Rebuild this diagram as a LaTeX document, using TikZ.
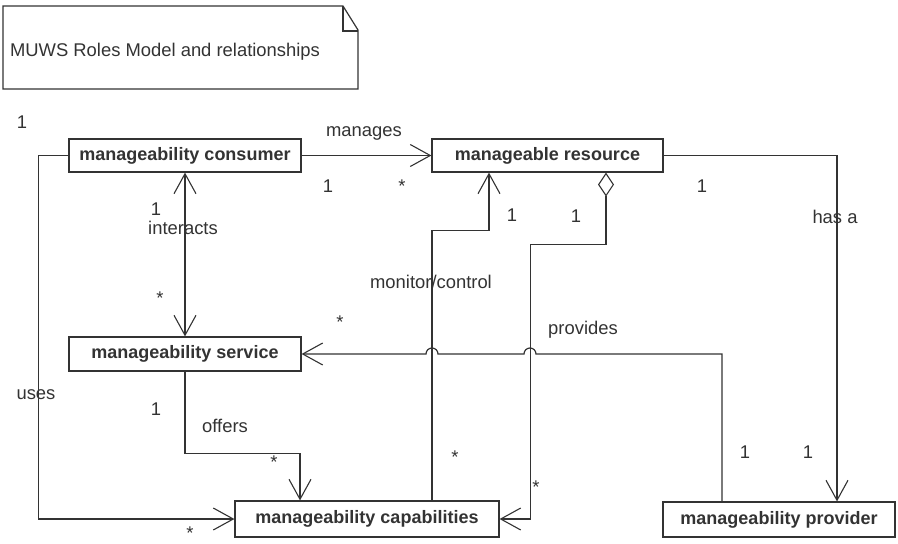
\documentclass[tikz,border=0pt]{standalone}
\usepackage{fontspec}
\setmainfont{Liberation Sans}
\usetikzlibrary{arrows.meta,calc}
\definecolor{ink}{HTML}{333333}
\tikzset{
  cls/.style={draw=ink, line width=1.2pt, inner sep=0pt, text=ink,
    font=\fontsize{18}{21}\selectfont\bfseries},
  lbl/.style={anchor=base, inner sep=0pt, text=ink,
    font=\fontsize{18.4}{21}\selectfont},
  conn/.style={draw=ink, line width=1.2pt},
  nav/.style={conn, -{Straight Barb[length=20pt,width=22pt,line width=1.1pt]}},
  bothnav/.style={conn, {Straight Barb[length=20pt,width=22pt,line width=1.1pt]}-{Straight Barb[length=20pt,width=22pt,line width=1.1pt]}},
  agg/.style={conn, {Diamond[open,length=24pt,width=16pt,line width=1.1pt]}-{Straight Barb[length=20pt,width=22pt,line width=1.1pt]}}
}
\begin{document}
\begin{tikzpicture}[x=1pt,y=-1pt]
\useasboundingbox[fill=white] (0,0) rectangle (898,544);

% note with folded corner
\draw[conn] (3,6) -- (343,6) -- (358,30) -- (358,89) -- (3,89) -- cycle;
\draw[conn] (343,6) -- (343,31) -- (358,31);
\node[lbl] (title) at (165,56) {MUWS Roles Model and relationships};

% classes
\node[cls, minimum width=232pt, minimum height=33pt] (consumer) at (185,155.5) {manageability consumer};
\node[cls, minimum width=231pt, minimum height=33pt] (resource) at (547.5,155.5) {manageable resource};
\node[cls, minimum width=232pt, minimum height=34pt] (service) at (185,354) {manageability service};
\node[cls, minimum width=264pt, minimum height=36pt] (capabilities) at (367,519) {manageability capabilities};
\node[cls, minimum width=232pt, minimum height=35pt] (provider) at (779,519.5) {manageability provider};

% attachment points
\coordinate (pvHas)  at ([xshift=58pt]provider.north);
\coordinate (pvProv) at ([xshift=-57pt]provider.north);
\coordinate (capOff) at ([xshift=-67pt]capabilities.north);
\coordinate (capMon) at ([xshift=65pt]capabilities.north);
\coordinate (resMon) at ([xshift=-58.5pt]resource.south);
\coordinate (resAgg) at ([xshift=58.5pt]resource.south);

% associations
\draw[nav] (consumer.west) -- ++(-30,0) |- (capabilities.west);
\draw[nav] (consumer.east) -- (resource.west);
\draw[nav] (resource.east) -| (pvHas);
\draw[bothnav] (consumer.south) -- (service.north);
\draw[nav] (service.south) -- ++(0,82) -| (capOff);
\draw[nav] (capMon) |- ($(resMon)+(0,58)$) -- (resMon);
\draw[agg] (resAgg) -- ++(0,72) -| ($(capabilities.east)+(31,0)$) -- (capabilities.east);
\draw[nav] (pvProv) -- (pvProv |- service.east) -- (536,354)
  arc[start angle=0, end angle=180, radius=6pt] -- (438,354)
  arc[start angle=0, end angle=180, radius=6pt] -- (service.east);

% association names
\node[lbl] (nManages) at (364,136) {manages};
\node[lbl] (nInteracts) at (183,234) {interacts};
\node[lbl] (nMonitor) at (431,288) {monitor/control};
\node[lbl] (nHas) at (835,223) {has a};
\node[lbl] (nProvides) at (583,334) {provides};
\node[lbl] (nUses) at (36,399) {uses};
\node[lbl] (nOffers) at (225,432) {offers};

% multiplicities
\node[lbl] (m1) at (22,128) {1};
\node[lbl] (m2) at (328,192) {1};
\node[lbl] (m3) at (402,192) {*};
\node[lbl] (m4) at (702,192) {1};
\node[lbl] (m5) at (156,215) {1};
\node[lbl] (m6) at (160,304) {*};
\node[lbl] (m7) at (512,221) {1};
\node[lbl] (m8) at (576,222) {1};
\node[lbl] (m9) at (340,328) {*};
\node[lbl] (m10) at (156,415) {1};
\node[lbl] (m11) at (274,468) {*};
\node[lbl] (m12) at (455,463) {*};
\node[lbl] (m13) at (536,493) {*};
\node[lbl] (m14) at (745,458) {1};
\node[lbl] (m15) at (808,458) {1};
\node[lbl] (m16) at (190,539) {*};
\end{tikzpicture}
\end{document}
